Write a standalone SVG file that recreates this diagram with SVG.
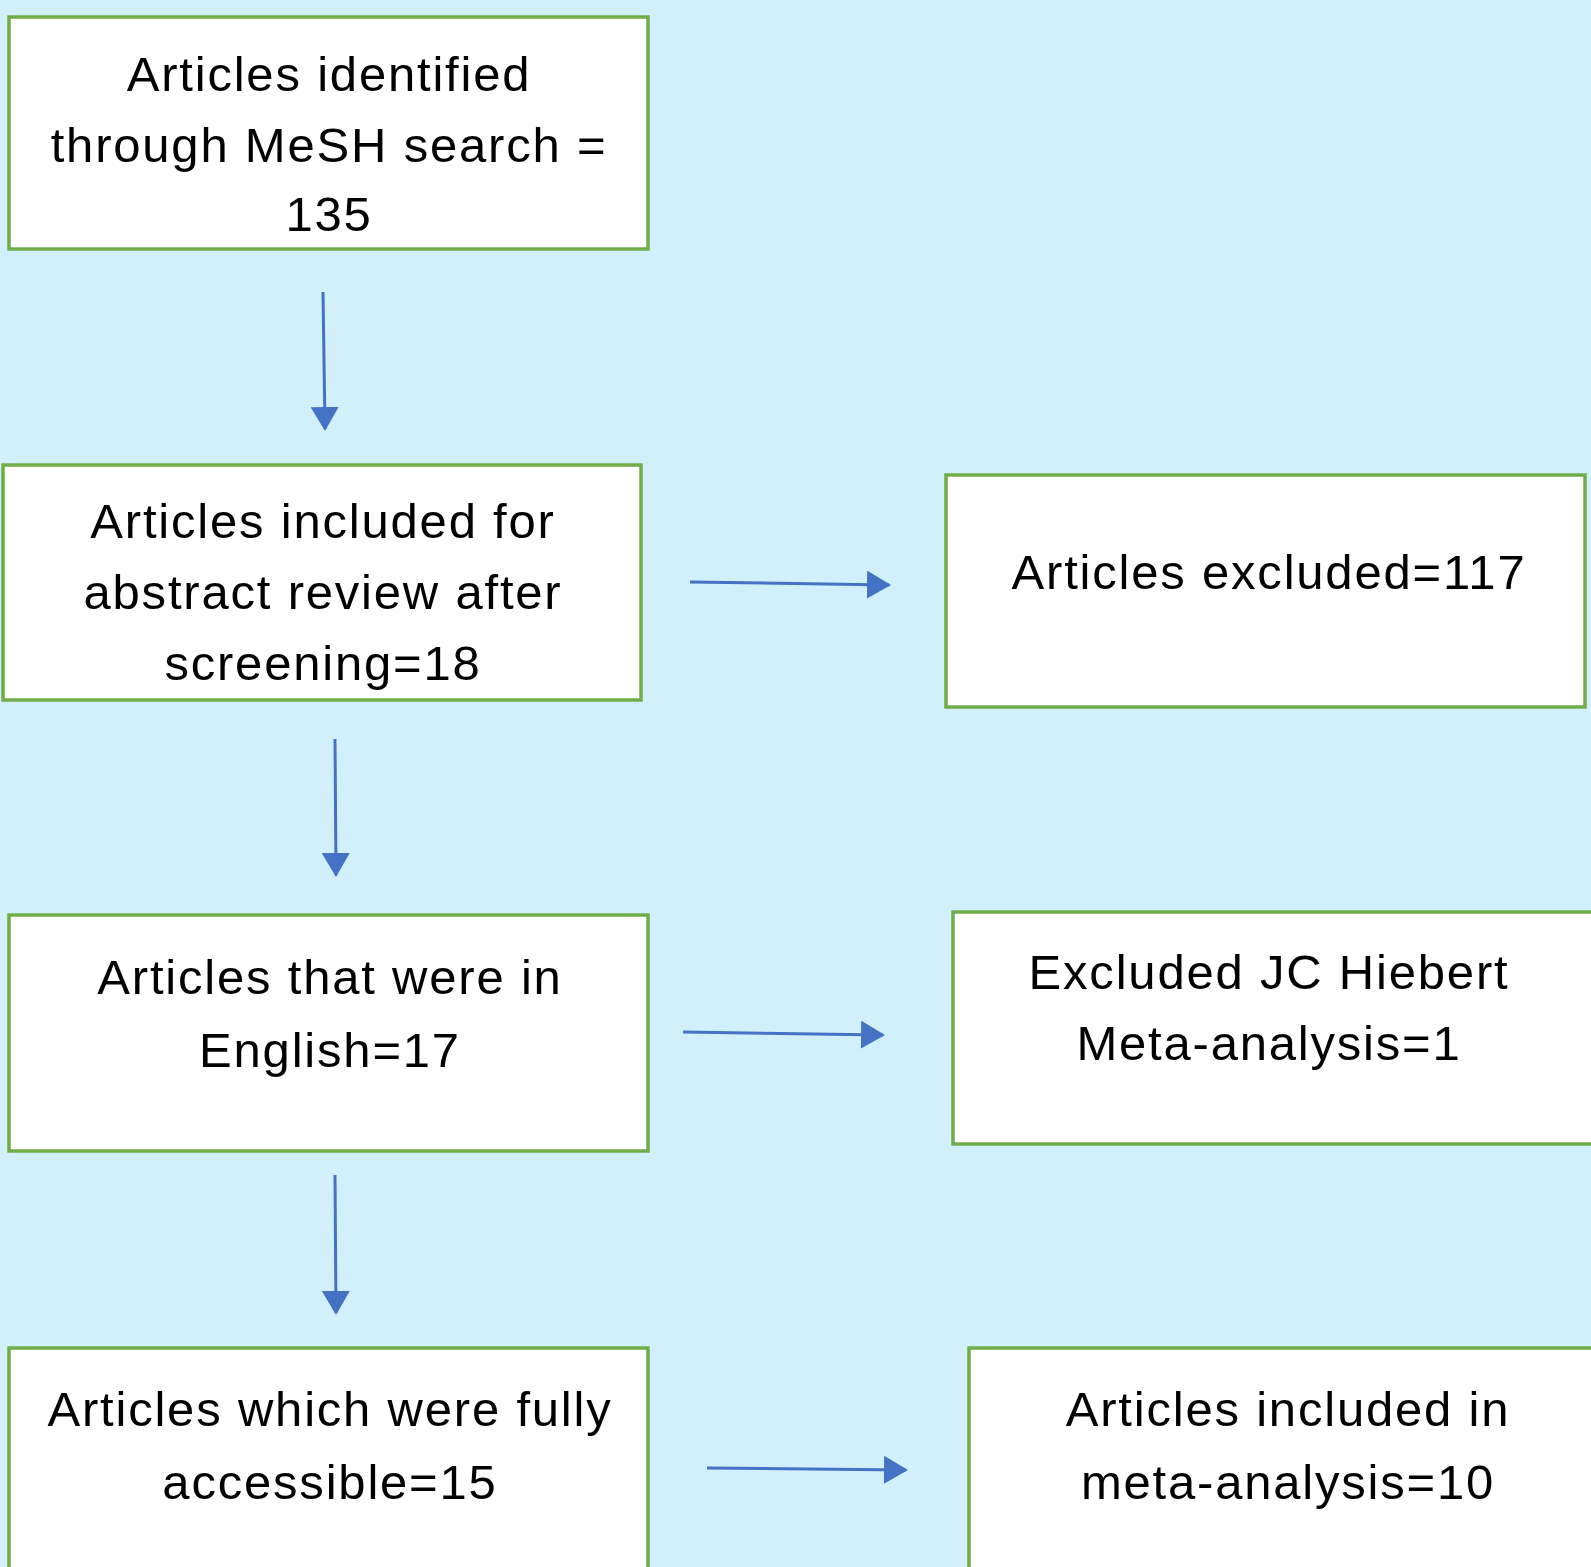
<svg xmlns="http://www.w3.org/2000/svg" width="1591" height="1567" viewBox="0 0 1591 1567">
<style>
.box{fill:#ffffff;stroke:#70AD47;stroke-width:3.5}
.t{font-family:"Liberation Sans",Arial,sans-serif;font-size:49px;fill:#000;text-anchor:middle;letter-spacing:1.8px}
.c{stroke:#4472C4;stroke-width:3;fill:none}
</style>
<defs>
<marker id="ah" markerUnits="userSpaceOnUse" markerWidth="24" markerHeight="28" refX="22" refY="14" orient="auto">
<path d="M0,0 L24,14 L0,28 Z" fill="#4472C4"/>
</marker>
</defs>
<rect width="1591" height="1567" fill="#D1F0FC"/>
<g id="connectors">
<line class="c" x1="323" y1="292" x2="325" y2="429" marker-end="url(#ah)"/>
<line class="c" x1="335" y1="739" x2="336" y2="875" marker-end="url(#ah)"/>
<line class="c" x1="335" y1="1175" x2="336" y2="1313" marker-end="url(#ah)"/>
<line class="c" x1="690" y1="582" x2="889" y2="585" marker-end="url(#ah)"/>
<line class="c" x1="683" y1="1032" x2="883" y2="1035" marker-end="url(#ah)"/>
<line class="c" x1="707" y1="1468" x2="906" y2="1470" marker-end="url(#ah)"/>
</g>
<g id="n1">
<rect class="box" x="9" y="17" width="639" height="232"/>
<text class="t" x="329" y="91">Articles identified</text>
<text class="t" x="329" y="162">through MeSH search =</text>
<text class="t" x="329" y="231">135</text>
</g>
<g id="n2">
<rect class="box" x="3" y="465" width="638" height="235"/>
<text class="t" x="323" y="538">Articles included for</text>
<text class="t" x="323" y="609">abstract review after</text>
<text class="t" x="323" y="680">screening=18</text>
</g>
<g id="n3">
<rect class="box" x="946" y="475" width="639" height="232"/>
<text class="t" x="1269" y="589">Articles excluded=117</text>
</g>
<g id="n4">
<rect class="box" x="9" y="915" width="639" height="236"/>
<text class="t" x="330" y="994">Articles that were in</text>
<text class="t" x="330" y="1067">English=17</text>
</g>
<g id="n5">
<rect class="box" x="953" y="912" width="640" height="232"/>
<text class="t" x="1269" y="989">Excluded JC Hiebert</text>
<text class="t" x="1269" y="1060">Meta-analysis=1</text>
</g>
<g id="n6">
<rect class="box" x="9" y="1348" width="639" height="240"/>
<text class="t" x="330" y="1426">Articles which were fully</text>
<text class="t" x="330" y="1499">accessible=15</text>
</g>
<g id="n7">
<rect class="box" x="969" y="1348" width="640" height="240"/>
<text class="t" x="1288" y="1426">Articles included in</text>
<text class="t" x="1288" y="1499">meta-analysis=10</text>
</g>
</svg>
